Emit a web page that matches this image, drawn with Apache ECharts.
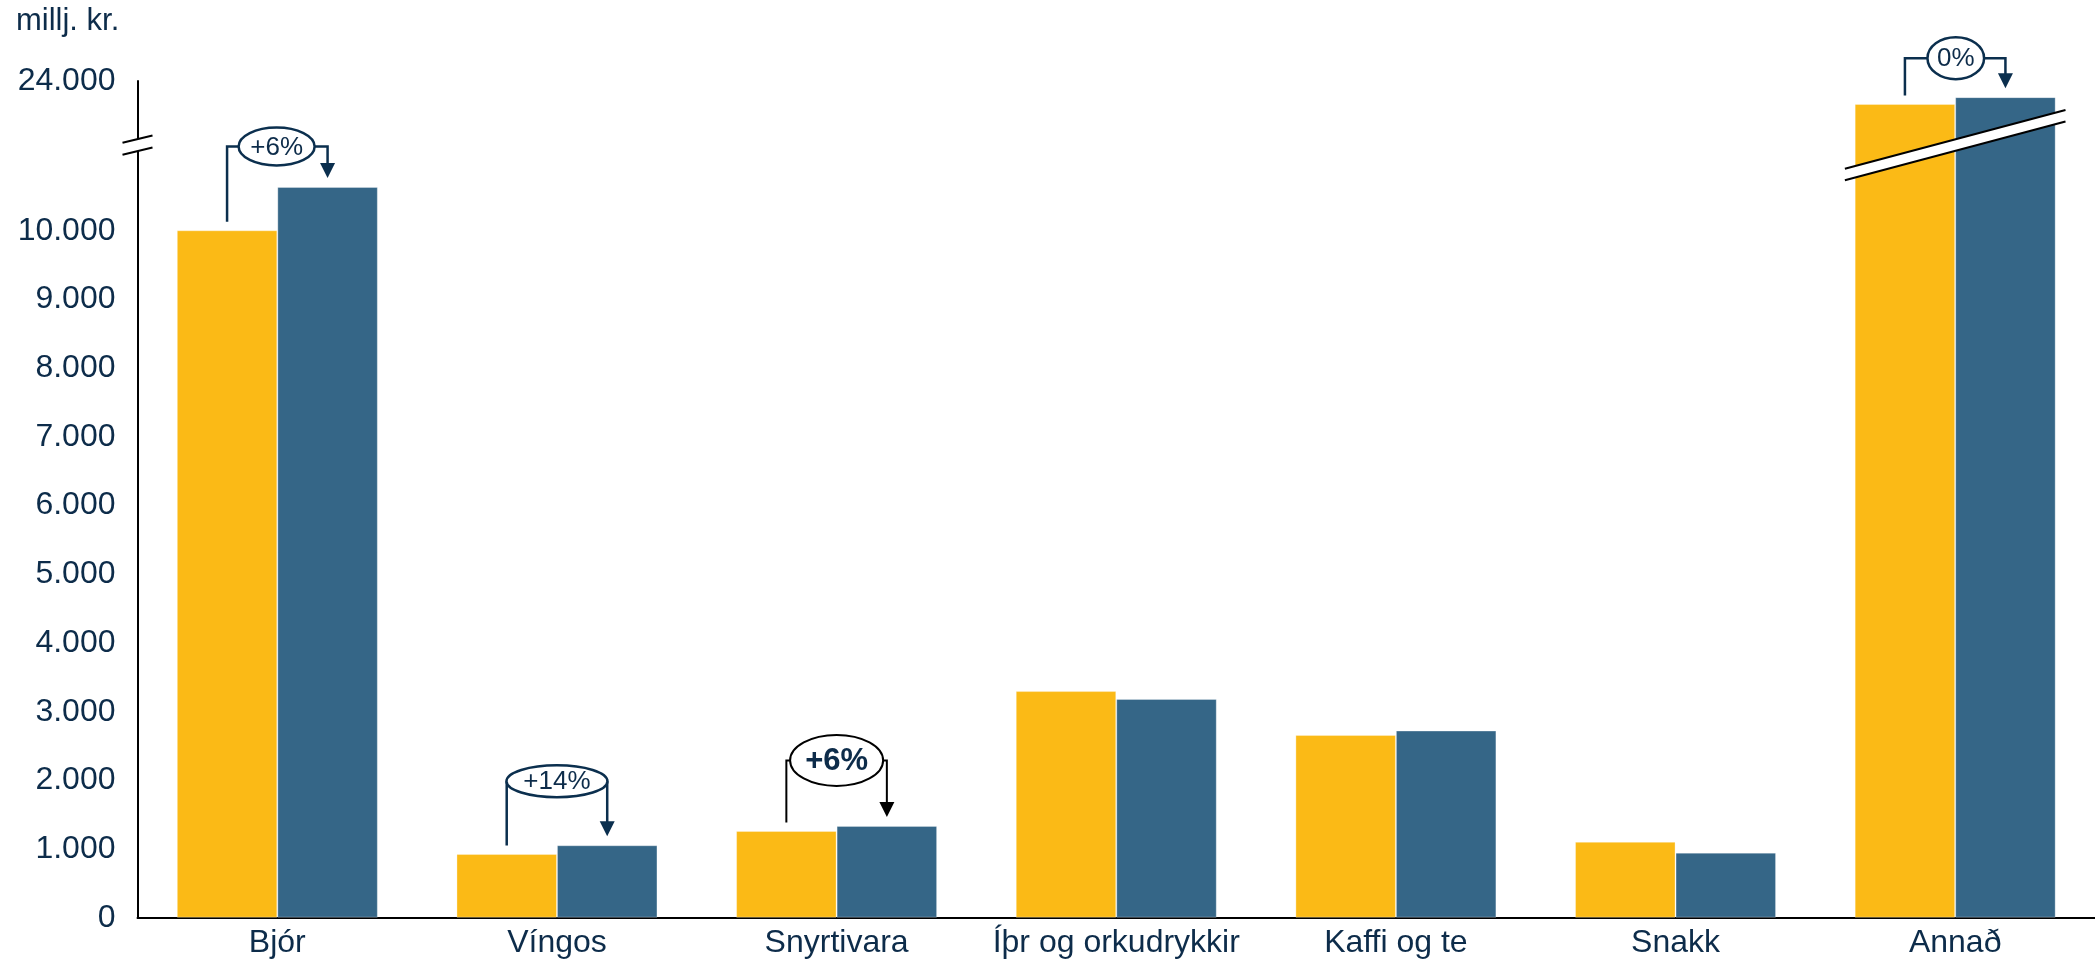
<!DOCTYPE html>
<html><head><meta charset="utf-8">
<script src="https://cdn.jsdelivr.net/npm/echarts@6/dist/echarts.min.js"></script>
<style>html,body{margin:0;padding:0;background:#fff}#c{width:2095px;height:966px}</style>
</head><body><div id="c"></div>
<script>
// ---- data ----
const categories = ['Bjór', 'Víngos', 'Snyrtivara', 'Íþr og orkudrykkir', 'Kaffi og te', 'Snakk', 'Annað'];
const seriesPrev = [10010, 927, 1262, 3300, 2660, 1105, 23665];
const seriesCurr = [10640, 1055, 1337, 3185, 2725, 947, 23765];
const yTickValues = [0, 1000, 2000, 3000, 4000, 5000, 6000, 7000, 8000, 9000, 10000, 24000];
const unitLabel = 'millj. kr.';
const changeCats = [0, 1, 2, 6];
const changeTexts = ['+6%', '+14%', '+6%', '0%'];
const axisBreakRange = [11250, 23066];

// ---- style ----
const FONT = "'Liberation Sans', Arial, sans-serif";
const TXT = '#0d2c4a';
const NAVY = '#0b2f4e';
const YELLOW = '#fbba16';
const BLUE = '#356687';
const BARW = 100.5;
const annStyle = [
  { lift: 40.5, dx: -0.7, rx: 38, ry: 19, line: NAVY, lw: 2.5, fs: 26, fw: 'normal' },
  { lift: 64, dx: 0, rx: 50.5, ry: 16, line: NAVY, lw: 2.5, fs: 26, fw: 'normal' },
  { lift: 65.5, dx: 0, rx: 46.5, ry: 25.5, line: '#000', lw: 2, fs: 31, fw: 'bold' },
  { lift: 39, dx: 0.6, rx: 28.3, ry: 21, line: NAVY, lw: 2.5, fs: 26, fw: 'normal' }
];

const fmt = v => String(v).replace(/\B(?=(\d{3})+(?!\d))/g, '.');

const chart = echarts.init(document.getElementById('c'));
chart.setOption({
  animation: false,
  backgroundColor: '#fff',
  textStyle: { fontFamily: FONT },
  grid: { left: 134.5, right: -12.3, top: 81, bottom: 48.3, containLabel: false },
  xAxis: {
    type: 'category', data: categories,
    axisLine: { lineStyle: { color: '#000', width: 2 } },
    axisTick: { show: false },
    axisLabel: { color: TXT, fontSize: 32, fontFamily: FONT, margin: 9, interval: 0 },
    splitLine: { show: false }
  },
  yAxis: {
    type: 'value', min: 0, max: 24000, interval: 1000,
    breaks: [{ start: axisBreakRange[0], end: axisBreakRange[1], gap: 0 }],
    breakArea: { show: false },
    axisLine: { show: true, lineStyle: { color: '#000', width: 2 } },
    axisTick: { show: false },
    splitLine: { show: false },
    axisLabel: {
      color: TXT, fontSize: 32, fontFamily: FONT, margin: 22,
      formatter: v => yTickValues.indexOf(v) >= 0 ? fmt(v) : ''
    }
  },
  series: [
    { type: 'bar', name: 'prev', data: seriesPrev, barWidth: BARW, barGap: '0%',
      itemStyle: { color: YELLOW, borderColor: 'rgba(255,255,255,0.3)', borderWidth: 1 } },
    { type: 'bar', name: 'curr', data: seriesCurr, barWidth: BARW, barGap: '0%',
      itemStyle: { color: BLUE, borderColor: 'rgba(255,255,255,0.3)', borderWidth: 1 } }
  ]
});

// ---- decorations computed from the chart's scales ----
function px(i, v) { return chart.convertToPixel({ gridIndex: 0 }, [i, v]); }
const g = [];
changeCats.forEach((ci, k) => {
  const s = annStyle[k];
  const c = px(ci, 0)[0];
  const xl = c - BARW / 2, xr = c + BARW / 2;
  const yTopA = px(ci, seriesPrev[ci])[1];
  const yTopB = px(ci, seriesCurr[ci])[1];
  const yb = yTopB - s.lift;
  const cx = c + s.dx;
  const tip = yTopB - 9;
  g.push({ type: 'polyline', z: 100, shape: { points: [[xl, yTopA - 8.5], [xl, yb], [cx - s.rx, yb]] },
    style: { stroke: s.line, lineWidth: s.lw, fill: null } });
  g.push({ type: 'polyline', z: 100, shape: { points: [[cx + s.rx, yb], [xr, yb], [xr, tip - 14]] },
    style: { stroke: s.line, lineWidth: s.lw, fill: null } });
  g.push({ type: 'polygon', z: 100, shape: { points: [[xr - 7.5, tip - 15], [xr + 7.5, tip - 15], [xr, tip]] },
    style: { fill: s.line } });
  g.push({ type: 'ellipse', z: 101, shape: { cx: cx, cy: yb, rx: s.rx, ry: s.ry },
    style: { fill: '#fff', stroke: s.line, lineWidth: s.lw } });
  g.push({ type: 'text', z: 102, x: cx, y: yb + 1,
    style: { text: changeTexts[k], fill: TXT, fontSize: s.fs, fontWeight: s.fw, fontFamily: FONT, align: 'center', verticalAlign: 'middle' } });
});

// break marks
const yBrk = chart.convertToPixel({ yAxisIndex: 0 }, axisBreakRange[0]);
function band(xc, yc, half, slope, gap, z) {
  const x1 = xc - half, x2 = xc + half;
  const y1 = yc + half * slope, y2 = yc - half * slope;
  g.push({ type: 'polygon', z: z, shape: { points: [[x1, y1 - gap], [x2, y2 - gap], [x2, y2 + gap], [x1, y1 + gap]] },
    style: { fill: '#fff' } });
  g.push({ type: 'line', z: z + 1, shape: { x1: x1, y1: y1 - gap, x2: x2, y2: y2 - gap }, style: { stroke: '#000', lineWidth: 2 } });
  g.push({ type: 'line', z: z + 1, shape: { x1: x1, y1: y1 + gap, x2: x2, y2: y2 + gap }, style: { stroke: '#000', lineWidth: 2 } });
}
const yAxisX = px(0, 0)[0] - (px(1, 0)[0] - px(0, 0)[0]) / 2;
band(yAxisX, yBrk, 15, 0.245, 6, 110);
band(px(6, 0)[0], yBrk, 110.3, 0.267, 5.75, 110);

// unit label
g.push({ type: 'text', z: 120, x: 16, y: 21,
  style: { text: unitLabel, fill: TXT, fontSize: 31, fontFamily: FONT, align: 'left', verticalAlign: 'middle' } });

chart.setOption({ graphic: { elements: g } });
</script>
</body></html>
